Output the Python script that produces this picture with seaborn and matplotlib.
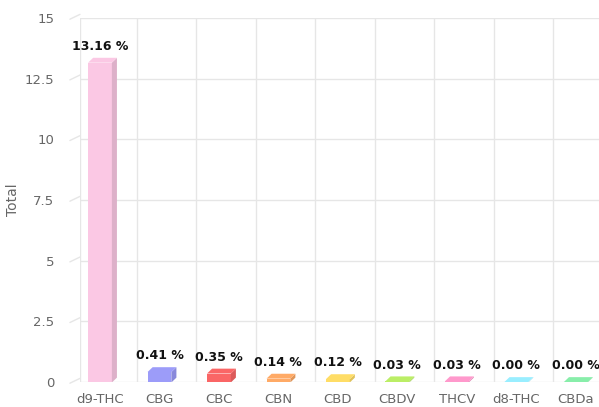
import matplotlib
matplotlib.use("Agg")
import matplotlib.pyplot as plt
import seaborn as sns
import pandas as pd
from matplotlib.patches import Polygon
from matplotlib.colors import to_rgb

categories = ["d9-THC", "CBG", "CBC", "CBN", "CBD", "CBDV", "THCV", "d8-THC", "CBDa"]
values = [13.16, 0.41, 0.35, 0.14, 0.12, 0.03, 0.03, 0.00, 0.00]
labels = ["13.16 %", "0.41 %", "0.35 %", "0.14 %", "0.12 %", "0.03 %", "0.03 %", "0.00 %", "0.00 %"]
colors = ["#fbc8e4", "#9c9cf9", "#fa6666", "#ffaa66", "#ffdd66", "#bbee66", "#ff99cc", "#99eeff", "#88eeaa"]
yticks = [0, 2.5, 5, 7.5, 10, 12.5, 15]
ytick_labels = ["0", "2.5", "5", "7.5", "10", "12.5", "15"]

df = pd.DataFrame({"cat": categories, "val": values})

sns.set_theme(style="white")
plt.rcParams['font.family'] = ['DejaVu Sans']

fig = plt.figure(figsize=(5.99, 4.07), dpi=100)
ax = fig.add_axes([80/599, 25/407, 519/599, 364/407])

sns.barplot(data=df, x="cat", y="val", hue="cat", palette=colors, legend=False,
            width=0.4, ax=ax, saturation=1, linewidth=0)

ax.set_xlim(-0.336, 8.39)
ax.set_ylim(0, 15)
ax.set_yticks(yticks)
ax.set_yticklabels(ytick_labels)

# 3D-like faces
dx = 0.085
dy = 0.2
for i, (v, c) in enumerate(zip(values, colors)):
    x0, x1 = i - 0.2, i + 0.2
    r, g, b = to_rgb(c)
    dark = (r * 0.88, g * 0.88, b * 0.88)
    side = Polygon([(x1, -0.02), (x1 + dx, dy - 0.02), (x1 + dx, v + dy), (x1, v)],
                   closed=True, facecolor=dark, edgecolor="none", zorder=3)
    ax.add_patch(side)
    top = Polygon([(x0, v), (x1, v), (x1 + dx, v + dy), (x0 + dx, v + dy)],
                  closed=True, facecolor=c, edgecolor="none", zorder=3)
    ax.add_patch(top)
    ax.text(i, v + 0.4, labels[i], ha="center", va="bottom", fontsize=9,
            fontweight="bold", color="#111111", zorder=4)

# grid
for t in yticks:
    ax.axhline(t, color="#e6e6e6", lw=1, zorder=0)
    ax.plot([-0.336 - 0.17, -0.336], [t - 0.05, t + 0.15], color="#e6e6e6",
            lw=1, clip_on=False, zorder=0)
for i in range(len(categories)):
    ax.axvline(i + 0.62, color="#e6e6e6", lw=1, zorder=0)
ax.axvline(-0.336, color="#e6e6e6", lw=1, zorder=0)

for s in ax.spines.values():
    s.set_visible(False)

ax.tick_params(axis="y", length=0, pad=18.5, labelsize=9.5, labelcolor="#666666")
ax.tick_params(axis="x", length=0, pad=8, labelsize=9.5, labelcolor="#666666")
ax.set_xlabel("")
ax.set_ylabel("Total", fontsize=10, color="#666666")
ax.yaxis.set_label_coords(-60/519, 0.5)

fig.savefig("out.png", dpi=100)
